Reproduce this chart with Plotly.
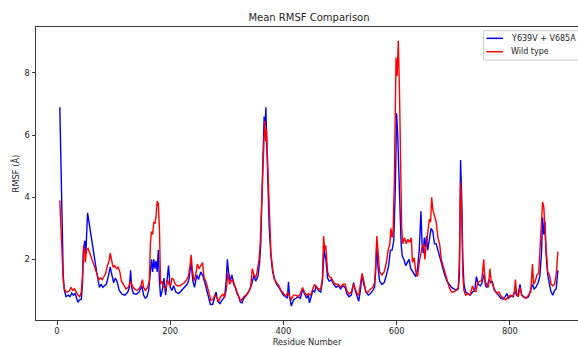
import plotly.graph_objects as go

# ---- Data ----
mutant_residue = [5, 7, 9, 11, 13, 16, 20, 23, 26, 29, 32, 35, 37, 40, 43, 45, 47, 49, 51, 54,
                  58, 62, 66, 70, 73, 75, 78, 81, 84, 87, 90, 94, 97, 100, 103, 106, 110, 115, 120, 125,
                  128, 130, 132, 135, 140, 145, 150, 153, 156, 159, 162, 165, 167, 169, 171, 173, 175, 177, 179, 181,
                  183, 186, 189, 192, 194, 197, 200, 203, 206, 210, 215, 220, 225, 230, 233, 237, 240, 243, 247, 250,
                  254, 258, 262, 265, 268, 271, 275, 278, 281, 284, 288, 292, 296, 299, 301, 303, 306, 309, 312, 315,
                  318, 321, 324, 327, 330, 335, 340, 344, 348, 351, 355, 358, 360, 362, 364, 366, 368, 369, 371, 373,
                  375, 378, 381, 384, 388, 392, 396, 400, 404, 407, 409, 411, 414, 418, 422, 426, 430, 434, 437, 441,
                  444, 446, 449, 452, 455, 458, 462, 466, 469, 472, 475, 478, 481, 485, 489, 493, 497, 501, 505, 509,
                  512, 516, 520, 524, 527, 530, 533, 536, 539, 542, 546, 550, 554, 558, 561, 563, 565, 567, 570, 574,
                  578, 582, 586, 589, 592, 595, 597, 598, 600, 602, 604, 606, 608, 610, 613, 616, 619, 622, 625, 628,
                  631, 634, 637, 640, 643, 645, 647, 649, 651, 653, 655, 658, 661, 664, 667, 670, 673, 677, 681, 685,
                  689, 693, 697, 701, 705, 709, 711, 713, 715, 717, 719, 722, 726, 730, 734, 738, 741, 744, 748, 751,
                  753, 755, 757, 760, 763, 766, 769, 772, 776, 780, 784, 788, 792, 795, 798, 802, 806, 809, 812, 815,
                  818, 821, 825, 829, 833, 837, 840, 843, 846, 850, 853, 856, 858, 860, 862, 864, 867, 870, 873, 876,
                  879, 882, 885]
mutant_rmsf = [6.9, 5.0, 2.5, 1.5, 1.0, 0.8, 0.85, 0.8, 0.92, 0.85, 0.9, 0.75, 0.62, 0.7, 0.72, 1.2, 2.3, 2.6, 2.2, 3.5,
               3.0, 2.5, 2.0, 1.6, 1.3, 1.1, 1.2, 1.1, 1.15, 1.2, 1.4, 1.75, 1.5, 1.25, 1.4, 1.3, 1.0, 0.88, 0.85, 0.95,
               1.1, 1.65, 1.1, 0.9, 0.88, 0.95, 1.15, 0.85, 0.75, 0.8, 1.0, 1.7, 2.0, 1.6, 2.0, 1.7, 1.95, 1.6, 2.3, 1.3,
               0.8, 1.0, 1.4, 0.85, 1.2, 1.8, 1.1, 1.0, 1.15, 0.95, 0.9, 1.0, 1.1, 1.2, 1.35, 1.9, 1.3, 1.1, 1.5, 1.35,
               1.6, 1.45, 1.2, 1.0, 0.75, 0.55, 0.55, 0.75, 0.95, 0.65, 0.58, 0.7, 0.78, 1.3, 2.0, 1.6, 1.3, 1.5, 1.2, 1.1,
               0.9, 0.8, 0.62, 0.6, 0.75, 0.85, 1.0, 1.2, 1.5, 1.3, 1.45, 1.9, 2.5, 4.0, 5.0, 6.6, 6.3, 6.9, 5.5, 4.2,
               3.0, 2.1, 1.6, 1.4, 1.2, 1.1, 0.95, 0.85, 0.8, 0.75, 1.28, 0.8, 0.5, 0.7, 0.75, 0.8, 0.75, 1.05, 0.9, 0.75,
               0.85, 0.6, 0.8, 1.0, 0.95, 1.15, 1.0, 0.95, 1.3, 2.3, 2.0, 1.4, 1.3, 1.35, 1.2, 1.1, 1.15, 1.05, 1.15, 1.1,
               0.9, 0.8, 0.85, 1.25, 1.0, 0.8, 0.65, 1.0, 1.5, 1.2, 0.95, 0.85, 0.9, 1.0, 1.1, 1.6, 2.5, 1.8, 1.3, 1.2,
               1.25, 1.5, 1.8, 2.3, 2.3, 2.6, 3.5, 4.5, 6.7, 6.0, 4.8, 3.5, 2.5, 2.1, 2.0, 1.8, 1.9, 2.0, 1.7, 1.6,
               1.5, 1.45, 1.7, 2.3, 3.55, 2.5, 2.2, 2.7, 2.4, 2.75, 2.3, 2.6, 3.0, 2.9, 2.5, 2.5, 2.3, 2.0, 1.7, 1.5,
               1.3, 1.2, 1.1, 1.05, 1.0, 1.05, 1.5, 5.2, 4.0, 2.0, 1.2, 0.95, 0.9, 0.85, 0.95, 1.0, 1.45, 1.2, 1.15, 1.25,
               1.4, 1.55, 1.15, 1.1, 1.35, 1.25, 1.3, 1.05, 0.95, 0.85, 0.75, 0.72, 0.8, 0.9, 0.75, 0.82, 0.8, 1.0, 0.85, 0.9,
               1.2, 0.85, 0.8, 0.75, 0.8, 1.0, 1.2, 1.05, 1.1, 1.25, 1.45, 2.2, 3.35, 2.8, 3.2, 2.2, 1.5, 1.2, 0.95, 0.85,
               1.0, 1.05, 1.65]

wt_residue = [5, 7, 9, 11, 13, 16, 19, 22, 25, 28, 31, 34, 37, 40, 43, 45, 47, 49, 50, 52,
              55, 58, 62, 66, 70, 74, 77, 80, 83, 86, 89, 92, 94, 96, 99, 102, 105, 108, 111, 114,
              118, 122, 126, 130, 133, 137, 141, 145, 148, 151, 153, 156, 160, 163, 165, 167, 169, 171, 173, 175,
              177, 179, 181, 183, 186, 189, 192, 195, 198, 201, 203, 206, 209, 213, 217, 221, 225, 229, 232, 235,
              237, 239, 242, 245, 248, 251, 254, 257, 260, 263, 266, 269, 272, 275, 279, 283, 286, 289, 293, 296,
              299, 302, 305, 308, 311, 314, 317, 320, 323, 326, 330, 334, 338, 342, 345, 348, 351, 354, 357, 359,
              361, 363, 365, 367, 369, 370, 372, 374, 376, 378, 381, 384, 388, 392, 396, 400, 404, 408, 411, 414,
              418, 422, 426, 430, 434, 437, 441, 444, 448, 451, 455, 458, 462, 466, 469, 471, 473, 475, 478, 481,
              485, 489, 493, 497, 501, 505, 509, 512, 516, 520, 524, 527, 530, 533, 536, 539, 542, 546, 550, 554,
              558, 561, 563, 565, 567, 570, 574, 578, 582, 585, 588, 590, 592, 594, 596, 598, 599, 601, 603, 605,
              606, 607, 609, 611, 614, 617, 620, 623, 626, 628, 631, 634, 637, 640, 642, 645, 648, 650, 652, 655,
              658, 660, 662, 664, 667, 670, 673, 676, 679, 682, 685, 689, 693, 697, 701, 705, 709, 711, 713, 715,
              717, 719, 722, 726, 730, 734, 737, 740, 743, 747, 750, 752, 754, 756, 759, 762, 765, 767, 770, 773,
              777, 781, 785, 789, 793, 797, 801, 805, 808, 810, 812, 815, 818, 821, 825, 829, 833, 837, 840, 842,
              845, 848, 851, 854, 856, 858, 860, 862, 864, 867, 870, 873, 876, 879, 882, 885]
wt_rmsf = [3.9, 3.0, 2.0, 1.3, 1.05, 0.95, 0.95, 1.0, 1.1, 1.0, 1.05, 0.92, 0.85, 0.8, 0.95, 1.5, 2.45, 2.2, 1.9, 2.3,
           2.35, 2.2, 2.0, 1.75, 1.55, 1.35, 1.4, 1.35, 1.45, 1.55, 1.8, 1.95, 2.2, 2.0, 1.75, 1.8, 1.7, 1.75, 1.6, 1.3,
           1.15, 1.05, 1.1, 1.3, 1.15, 1.05, 1.0, 1.05, 1.15, 1.35, 1.1, 1.0, 1.1, 1.3, 2.5, 2.9, 2.8, 3.2, 3.15, 3.4,
           3.87, 3.8, 3.0, 1.2, 1.3, 1.1, 1.05, 1.35, 1.2, 1.15, 1.4, 1.35, 1.2, 1.15, 1.15, 1.2, 1.25, 1.35, 1.45, 1.8,
           2.15, 1.7, 1.3, 1.5, 1.85, 1.7, 1.8, 1.9, 1.4, 1.3, 1.1, 0.85, 0.68, 0.7, 0.85, 0.75, 0.65, 0.8, 0.88, 0.78,
           1.0, 1.55, 1.2, 1.3, 1.35, 1.15, 1.0, 0.85, 0.72, 0.68, 0.8, 0.85, 0.95, 1.1, 1.7, 1.5, 1.4, 1.65, 2.0, 2.5,
           3.5, 4.5, 5.2, 6.45, 5.8, 6.2, 5.2, 4.0, 3.0, 2.2, 1.7, 1.35, 1.25, 1.15, 1.0, 0.9, 0.82, 0.95, 0.8, 0.72,
           0.85, 0.85, 0.8, 0.9, 1.1, 0.95, 0.85, 0.9, 0.85, 1.0, 1.2, 1.1, 1.05, 1.05, 1.4, 2.75, 2.3, 2.45, 1.6, 1.45,
           1.4, 1.25, 1.2, 1.2, 1.1, 1.2, 1.2, 1.0, 0.88, 0.95, 1.2, 1.05, 0.9, 0.85, 1.2, 1.55, 1.3, 0.95, 0.95, 1.05,
           1.1, 1.25, 1.8, 2.75, 2.3, 1.6, 1.5, 1.6, 1.9, 2.3, 2.5, 3.0, 2.7, 3.0, 4.5, 7.0, 8.5, 7.9, 9.04, 7.5,
           6.0, 4.5, 3.0, 2.5, 2.7, 2.5, 2.65, 2.55, 2.7, 1.9, 2.05, 1.6, 1.45, 1.9, 2.1, 2.4, 2.5, 2.0, 2.4, 2.9,
           3.3, 3.2, 4.0, 3.6, 3.4, 3.2, 2.7, 2.5, 2.0, 1.8, 1.55, 1.3, 1.1, 0.95, 0.95, 1.0, 1.1, 2.0, 4.5, 3.5,
           1.5, 1.0, 0.85, 0.9, 0.85, 1.15, 1.0, 0.95, 1.25, 1.3, 1.3, 1.6, 2.0, 1.3, 1.2, 1.1, 1.7, 1.3, 1.2, 1.0,
           0.9, 0.95, 0.8, 0.75, 0.7, 0.78, 0.85, 0.8, 0.95, 1.35, 0.85, 0.8, 1.1, 0.85, 0.78, 0.75, 0.85, 0.95, 1.85, 1.2,
           1.3, 1.5, 1.55, 2.5, 3.2, 3.85, 3.7, 3.2, 2.4, 1.6, 1.5, 1.2, 1.15, 1.2, 1.5, 2.25]

series_names = ["Y639V + V685A", "Wild type"]
series_colors = ["#0000ff", "#ff0000"]
x_ticks = [0, 200, 400, 600, 800]
y_ticks = [2, 4, 6, 8]

FONT = "DejaVu Sans"
TXT = "#262626"
AX = "#3a3a3a"

fig = go.Figure()
fig.add_trace(go.Scatter(x=mutant_residue, y=mutant_rmsf, mode="lines", name=series_names[0],
                         line=dict(color=series_colors[0], width=1.4), showlegend=False))
fig.add_trace(go.Scatter(x=wt_residue, y=wt_rmsf, mode="lines", name=series_names[1],
                         line=dict(color=series_colors[1], width=1.4), showlegend=False))

# ---- Legend (matplotlib-style box in the upper right corner) ----
shapes = [dict(type="rect", xref="paper", yref="paper", x0=0.8258, x1=1.03, y0=0.887, y1=0.9874,
               line=dict(color="#cccccc", width=1), fillcolor="rgba(255,255,255,0.8)", layer="above")]
annotations = []
legend_rows_y = [0.9614, 0.9157]
for name, color, yy in zip(series_names, series_colors, legend_rows_y):
    shapes.append(dict(type="line", xref="paper", yref="paper", x0=0.8312, x1=0.8616, y0=yy, y1=yy,
                       line=dict(color=color, width=1.5), layer="above"))
    annotations.append(dict(text=name, xref="paper", yref="paper", x=0.8725, y=yy,
                            xanchor="left", yanchor="middle", showarrow=False,
                            font=dict(family=FONT, size=8, color=TXT)))

fig.update_layout(
    width=578, height=347,
    margin=dict(l=36, r=0, t=27, b=27, pad=0),
    paper_bgcolor="white", plot_bgcolor="white",
    font=dict(family=FONT, size=8.3, color=TXT),
    title=dict(text="Mean RMSF Comparison", font=dict(family=FONT, size=10, color=TXT),
               x=0.5346, xref="container", xanchor="center",
               y=1 - 17 / 347, yref="container", yanchor="middle"),
    showlegend=False,
    shapes=shapes,
    annotations=annotations,
)
fig.update_xaxes(range=[-37.1, 920.5], tickvals=x_ticks, ticks="outside", ticklen=3.5,
                 tickcolor=AX, tickwidth=1, showline=True, linecolor=AX, linewidth=1, mirror=True,
                 showgrid=False, zeroline=False, tickfont=dict(size=8.3, color=TXT),
                 title=dict(text="Residue Number", font=dict(size=8.3, color=TXT), standoff=3),
                 automargin=False)
fig.update_yaxes(range=[0.05, 9.48], tickvals=y_ticks, ticks="outside", ticklen=3.5,
                 tickcolor=AX, tickwidth=1, showline=True, linecolor=AX, linewidth=1, mirror=False,
                 showgrid=False, zeroline=False, tickfont=dict(size=8.3, color=TXT),
                 title=dict(text="RMSF (Å)", font=dict(size=8.3, color=TXT), standoff=3),
                 automargin=False)

fig.write_html("out.html")
